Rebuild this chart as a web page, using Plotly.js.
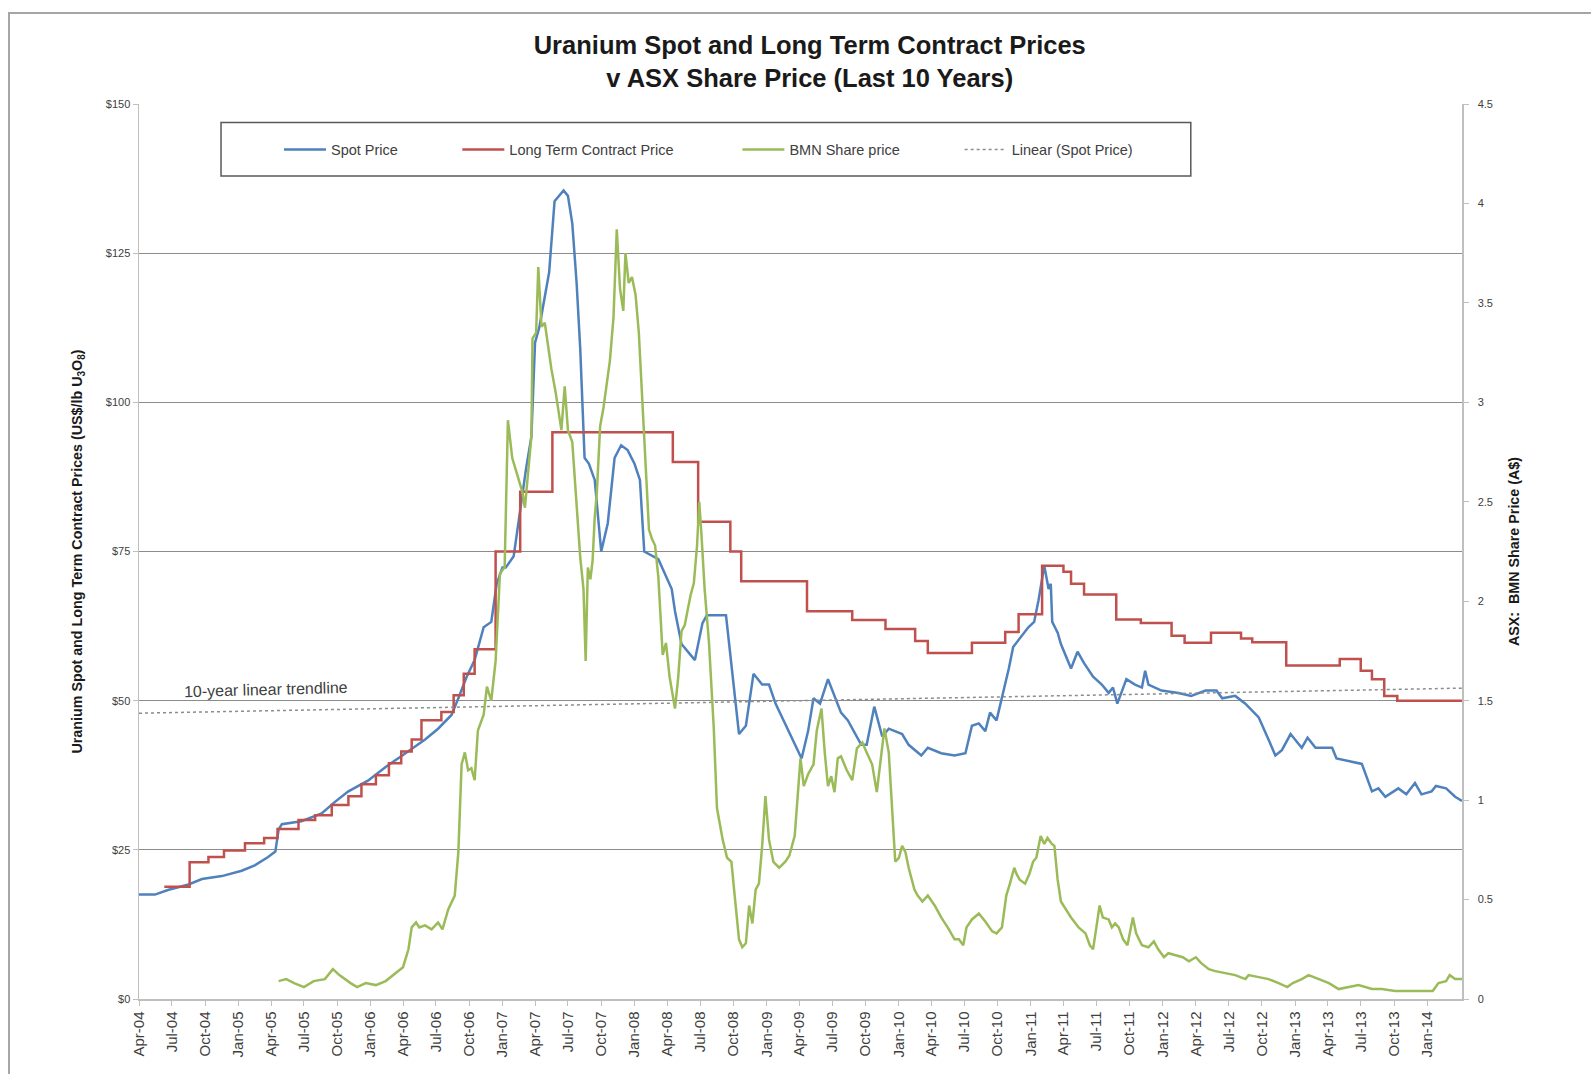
<!DOCTYPE html>
<html>
<head>
<meta charset="utf-8">
<script src="https://cdn.plot.ly/plotly-3.0.1.min.js"></script>
<style>
  html, body { margin: 0; padding: 0; background: #ffffff; }
  #frame { position: absolute; left: 8px; top: 12px; width: 1600px; height: 1100px;
           border-top: 2px solid #a6a6a6; border-left: 2px solid #a6a6a6; }
  #chart { position: absolute; left: 0; top: 0; width: 1591px; height: 1074px; }
</style>
</head>
<body>
<div id="frame"></div>
<div id="chart"></div>
<script>
// Uranium spot price (US$/lb U3O8)
const spotDates = [
  '2004-04-01','2004-05-15','2004-06-22','2004-08-16','2004-09-22','2004-11-16','2005-01-10','2005-02-15',
  '2005-03-24','2005-04-13','2005-04-22','2005-05-01','2005-06-24','2005-08-19','2005-09-24','2005-11-01',
  '2005-12-25','2006-02-12','2006-03-27','2006-05-04','2006-06-01','2006-07-07','2006-08-13','2006-09-01',
  '2006-09-24','2006-10-16','2006-11-10','2006-12-01','2006-12-16','2007-01-01','2007-01-10','2007-02-01',
  '2007-02-18','2007-03-07','2007-03-22','2007-04-01','2007-04-13','2007-04-28','2007-05-10','2007-05-25',
  '2007-06-19','2007-07-01','2007-07-13','2007-07-25','2007-08-04','2007-08-16','2007-08-28','2007-09-13',
  '2007-10-01','2007-10-19','2007-11-07','2007-11-25','2007-12-13','2008-01-01','2008-01-16','2008-01-28',
  '2008-03-07','2008-04-13','2008-04-22','2008-05-10','2008-06-16','2008-07-07','2008-07-19','2008-09-10',
  '2008-10-16','2008-11-04','2008-11-25','2008-12-19','2009-01-07','2009-01-25','2009-03-01','2009-04-07',
  '2009-04-25','2009-05-10','2009-05-28','2009-06-19','2009-07-25','2009-08-13','2009-09-19','2009-10-04',
  '2009-10-25','2009-11-16','2009-12-04','2010-01-10','2010-01-28','2010-03-04','2010-03-22','2010-04-28',
  '2010-06-04','2010-07-04','2010-07-22','2010-08-10','2010-08-28','2010-09-10','2010-09-28','2010-10-16',
  '2010-11-01','2010-11-13','2010-12-01','2010-12-25','2011-01-10','2011-01-22','2011-02-07','2011-02-19',
  '2011-02-25','2011-03-01','2011-03-16','2011-03-25','2011-04-22','2011-05-10','2011-05-28','2011-06-22',
  '2011-07-16','2011-08-04','2011-08-16','2011-08-28','2011-09-22','2011-10-16','2011-11-04','2011-11-13',
  '2011-11-22','2011-12-28','2012-02-13','2012-03-19','2012-04-28','2012-05-28','2012-06-13','2012-07-19',
  '2012-08-16','2012-09-22','2012-10-19','2012-11-07','2012-11-25','2012-12-19','2013-01-07','2013-01-19',
  '2013-02-04','2013-02-26','2013-04-13','2013-04-25','2013-07-04','2013-07-22','2013-08-01','2013-08-19',
  '2013-09-07','2013-10-13','2013-11-04','2013-11-28','2013-12-16','2014-01-13','2014-01-25','2014-02-22',
  '2014-03-19','2014-04-07'
];
const spotPrice = [
  17.5, 17.5, 18.3, 19.2, 20.1, 20.6, 21.5, 22.4,
  23.8, 24.7, 28.4, 29.3, 29.8, 31.1, 33.0, 34.8,
  36.6, 38.9, 40.7, 42.3, 43.5, 45.3, 47.6, 50.4,
  54.0, 56.8, 62.3, 63.2, 69.6, 72.3, 72.3, 74.2,
  81.5, 88.8, 94.3, 110.0, 112.6, 118.0, 121.8, 133.7,
  135.5, 134.6, 130.0, 120.0, 109.0, 90.7, 89.7, 87.0,
  75.0, 79.7, 90.7, 92.8, 92.0, 89.7, 87.0, 75.0,
  73.7, 68.7, 65.0, 59.5, 56.8, 63.0, 64.3, 64.3,
  44.4, 45.8, 54.5, 52.7, 52.7, 49.5, 44.9, 40.3,
  44.9, 50.4, 49.5, 53.6, 48.0, 46.7, 42.6, 42.6,
  49.0, 44.0, 45.3, 44.4, 42.6, 40.8, 42.1, 41.2,
  40.8, 41.2, 45.8, 46.2, 44.9, 48.0, 46.7, 51.3,
  55.4, 59.0, 60.4, 62.3, 63.2, 66.8, 72.6, 68.7,
  69.6, 63.2, 61.4, 59.5, 55.4, 58.2, 56.3, 54.0,
  52.7, 51.3, 52.2, 49.5, 53.6, 52.7, 52.2, 55.0,
  52.7, 51.7, 51.3, 50.8, 51.7, 51.7, 50.4, 50.8,
  49.5, 47.2, 43.5, 40.8, 41.7, 44.4, 43.0, 42.1,
  43.8, 42.1, 42.1, 40.3, 39.4, 36.6, 34.8, 35.3,
  33.9, 35.3, 34.3, 36.2, 34.3, 34.8, 35.7, 35.3,
  33.9, 33.2
];

// Long term contract price (US$/lb U3O8), each value holds until the next date
const ltDates = [
  '2004-06-10','2004-08-19','2004-10-10','2004-11-22','2005-01-19','2005-03-13','2005-04-19','2005-06-16',
  '2005-08-01','2005-09-16','2005-11-01','2005-12-07','2006-01-16','2006-02-21','2006-03-27','2006-04-25',
  '2006-05-22','2006-07-16','2006-08-19','2006-09-16','2006-10-16','2006-12-13','2007-02-19','2007-05-19',
  '2008-04-16','2008-06-25','2008-09-22','2008-10-22','2009-04-22','2009-08-25','2009-11-25','2010-02-15',
  '2010-03-22','2010-07-22','2010-10-22','2010-11-28','2011-02-01','2011-04-01','2011-04-22','2011-05-28',
  '2011-08-25','2011-11-01','2012-01-25','2012-03-01','2012-05-13','2012-08-04','2012-09-04','2012-12-07',
  '2013-05-04','2013-07-01','2013-08-01','2013-09-04','2013-10-10','2014-04-07'
];
const ltPrice = [
  18.8, 22.9, 23.8, 24.9, 26.1, 27.0, 28.5, 30.0,
  30.8, 32.5, 34.0, 36.0, 37.5, 39.5, 41.5, 43.5,
  46.7, 48.1, 50.9, 54.5, 58.6, 75.0, 85.0, 95.0,
  90.0, 80.0, 75.0, 70.0, 65.0, 63.5, 62.0, 60.0,
  58.0, 59.7, 61.5, 64.5, 72.6, 71.6, 69.6, 67.8,
  63.6, 63.0, 60.9, 59.7, 61.4, 60.4, 59.8, 55.9,
  57.0, 55.0, 53.6, 50.8, 50.0, 50.0
];

// BMN share price on the ASX (A$)
const bmnDates = [
  '2005-04-22','2005-05-13','2005-06-04','2005-07-01','2005-07-28','2005-08-28','2005-09-19','2005-10-07',
  '2005-11-07','2005-11-25','2005-12-19','2006-01-16','2006-02-12','2006-03-10','2006-04-01','2006-04-16',
  '2006-04-25','2006-05-07','2006-05-16','2006-06-01','2006-06-19','2006-07-07','2006-07-19','2006-08-04',
  '2006-08-22','2006-09-01','2006-09-10','2006-09-19','2006-09-28','2006-10-07','2006-10-16','2006-10-25',
  '2006-11-10','2006-11-19','2006-12-01','2006-12-13','2006-12-25','2007-01-07','2007-01-16','2007-01-28',
  '2007-02-10','2007-02-25','2007-03-04','2007-03-13','2007-03-22','2007-03-25','2007-04-04','2007-04-10',
  '2007-04-19','2007-04-28','2007-05-16','2007-05-28','2007-06-13','2007-06-22','2007-07-01','2007-07-13',
  '2007-07-25','2007-08-04','2007-08-13','2007-08-19','2007-08-25','2007-09-01','2007-09-07','2007-09-13',
  '2007-09-19','2007-09-28','2007-10-07','2007-10-16','2007-10-25','2007-11-04','2007-11-13','2007-11-22',
  '2007-12-01','2007-12-07','2007-12-16','2007-12-25','2008-01-04','2008-01-13','2008-01-22','2008-02-01',
  '2008-02-10','2008-02-19','2008-02-27','2008-03-07','2008-03-19','2008-03-28','2008-04-07','2008-04-22',
  '2008-05-01','2008-05-10','2008-05-19','2008-06-04','2008-06-13','2008-06-22','2008-06-28','2008-07-04',
  '2008-07-13','2008-07-25','2008-08-07','2008-08-16','2008-09-01','2008-09-13','2008-09-25','2008-10-04',
  '2008-10-16','2008-10-25','2008-11-04','2008-11-13','2008-11-22','2008-12-01','2008-12-10','2008-12-19',
  '2008-12-28','2009-01-07','2009-01-19','2009-02-04','2009-02-21','2009-03-04','2009-03-19','2009-04-04',
  '2009-04-13','2009-04-25','2009-05-10','2009-05-19','2009-06-01','2009-06-10','2009-06-19','2009-06-28',
  '2009-07-07','2009-07-16','2009-07-25','2009-08-10','2009-08-25','2009-09-07','2009-09-22','2009-10-04',
  '2009-10-19','2009-11-01','2009-11-10','2009-11-22','2009-12-04','2009-12-13','2009-12-22','2010-01-01',
  '2010-01-10','2010-01-19','2010-01-28','2010-02-13','2010-02-22','2010-03-07','2010-03-22','2010-04-10',
  '2010-04-28','2010-05-16','2010-06-04','2010-06-16','2010-06-28','2010-07-07','2010-07-22','2010-08-10',
  '2010-08-28','2010-09-16','2010-09-28','2010-10-13','2010-10-25','2010-11-04','2010-11-16','2010-11-22',
  '2010-12-01','2010-12-16','2010-12-28','2011-01-07','2011-01-16','2011-01-28','2011-02-07','2011-02-16',
  '2011-02-28','2011-03-07','2011-03-16','2011-03-25','2011-04-07','2011-04-22','2011-05-13','2011-06-01',
  '2011-06-13','2011-06-22','2011-07-01','2011-07-10','2011-07-19','2011-08-04','2011-08-13','2011-08-22',
  '2011-09-01','2011-09-13','2011-09-25','2011-10-10','2011-10-19','2011-11-04','2011-11-22','2011-12-07',
  '2011-12-19','2012-01-04','2012-01-16','2012-02-04','2012-02-25','2012-03-13','2012-04-01','2012-04-16',
  '2012-05-07','2012-05-25','2012-06-22','2012-07-19','2012-08-16','2012-08-25','2012-09-22','2012-10-19',
  '2012-11-16','2012-12-10','2012-12-25','2013-01-19','2013-02-07','2013-03-07','2013-04-04','2013-05-01',
  '2013-06-01','2013-06-25','2013-08-01','2013-08-28','2013-10-04','2013-11-10','2013-12-13','2014-01-16',
  '2014-02-01','2014-02-22','2014-03-04','2014-03-19','2014-04-07'
];
const bmnPrice = [
  0.09, 0.10, 0.08, 0.06, 0.09, 0.10, 0.15, 0.12,
  0.08, 0.06, 0.08, 0.07, 0.09, 0.13, 0.16, 0.25,
  0.36, 0.385, 0.36, 0.37, 0.35, 0.385, 0.35, 0.45,
  0.52, 0.74, 1.18, 1.24, 1.15, 1.16, 1.10, 1.35,
  1.43, 1.57, 1.50, 1.70, 2.14, 2.17, 2.91, 2.72,
  2.64, 2.55, 2.47, 2.64, 2.83, 3.32, 3.35, 3.68,
  3.38, 3.40, 3.17, 3.05, 2.86, 3.08, 2.86, 2.80,
  2.50, 2.22, 2.06, 1.70, 2.17, 2.11, 2.20, 2.42,
  2.55, 2.88, 2.97, 3.10, 3.21, 3.43, 3.87, 3.57,
  3.46, 3.75, 3.60, 3.63, 3.54, 3.35, 3.05, 2.66,
  2.36, 2.31, 2.28, 2.12, 1.73, 1.79, 1.62, 1.46,
  1.62, 1.85, 1.88, 2.03, 2.09, 2.28, 2.50, 2.34,
  2.06, 1.79, 1.37, 0.96, 0.80, 0.71, 0.69, 0.52,
  0.30, 0.26, 0.28, 0.47, 0.38, 0.55, 0.58, 0.77,
  1.02, 0.80, 0.69, 0.66, 0.69, 0.72, 0.82, 1.21,
  1.07, 1.13, 1.18, 1.35, 1.46, 1.24, 1.07, 1.12,
  1.04, 1.21, 1.22, 1.15, 1.10, 1.26, 1.29, 1.24,
  1.18, 1.04, 1.18, 1.36, 1.24, 0.96, 0.69, 0.71,
  0.77, 0.74, 0.66, 0.55, 0.52, 0.49, 0.52, 0.47,
  0.41, 0.36, 0.30, 0.30, 0.27, 0.36, 0.40, 0.43,
  0.39, 0.34, 0.33, 0.36, 0.52, 0.58, 0.66, 0.63,
  0.60, 0.58, 0.63, 0.69, 0.71, 0.82, 0.78, 0.81,
  0.78, 0.77, 0.60, 0.49, 0.45, 0.41, 0.36, 0.33,
  0.27, 0.25, 0.36, 0.47, 0.41, 0.40, 0.36, 0.38,
  0.36, 0.30, 0.27, 0.41, 0.33, 0.27, 0.26, 0.29,
  0.25, 0.21, 0.23, 0.22, 0.21, 0.19, 0.21, 0.18,
  0.15, 0.14, 0.13, 0.12, 0.10, 0.12, 0.11, 0.10,
  0.08, 0.06, 0.08, 0.10, 0.12, 0.10, 0.08, 0.05,
  0.06, 0.07, 0.05, 0.05, 0.04, 0.04, 0.04, 0.04,
  0.08, 0.09, 0.12, 0.10, 0.10
];

// Linear trendline through the spot price, start and end of the 10-year span
const trendDates = ['2004-04-01', '2014-04-07'];
const trendPrice = [47.9, 52.1];

// Quarterly date ticks on the time axis
const quarterTicks = [
  '2004-04-01','2004-07-01','2004-10-01','2005-01-01','2005-04-01','2005-07-01','2005-10-01','2006-01-01',
  '2006-04-01','2006-07-01','2006-10-01','2007-01-01','2007-04-01','2007-07-01','2007-10-01','2008-01-01',
  '2008-04-01','2008-07-01','2008-10-01','2009-01-01','2009-04-01','2009-07-01','2009-10-01','2010-01-01',
  '2010-04-01','2010-07-01','2010-10-01','2011-01-01','2011-04-01','2011-07-01','2011-10-01','2012-01-01',
  '2012-04-01','2012-07-01','2012-10-01','2013-01-01','2013-04-01','2013-07-01','2013-10-01','2014-01-01'
];

// Axis ranges
const xRange = ['2004-04-01', '2014-04-07'];
const leftRange = [0, 150];
const rightRange = [0, 4.5];

const narrow = "'Liberation Sans Narrow', 'Liberation Sans', Arial, sans-serif";
const plain = "'Liberation Sans', Arial, sans-serif";

const traces = [
  { name: 'Spot Price', x: spotDates, y: spotPrice, type: 'scatter', mode: 'lines',
    line: { color: '#4F81BD', width: 2.5 }, legend: 'legend' },
  { name: 'Long Term Contract Price', x: ltDates, y: ltPrice, type: 'scatter', mode: 'lines',
    line: { color: '#C0504D', width: 2.5, shape: 'hv' }, legend: 'legend2' },
  { name: 'BMN Share price', x: bmnDates, y: bmnPrice, type: 'scatter', mode: 'lines', yaxis: 'y2',
    line: { color: '#9BBB59', width: 2.5 }, legend: 'legend3' },
  { name: 'Linear (Spot Price)', x: trendDates, y: trendPrice, type: 'scatter', mode: 'lines',
    line: { color: '#8C8C8C', width: 1.5, dash: 'dot' }, legend: 'legend4' }
];

function legendAt(x) {
  return { x: x, y: 0.9492, xanchor: 'left', yanchor: 'middle', orientation: 'h',
           bgcolor: 'rgba(0,0,0,0)', borderwidth: 0, itemwidth: 42,
           font: { family: narrow, size: 14.5, color: '#404040' } };
}

const layout = {
  width: 1591, height: 1074,
  margin: { l: 139, r: 129, t: 103.5, b: 74.5 },
  paper_bgcolor: 'rgba(0,0,0,0)', plot_bgcolor: 'rgba(0,0,0,0)',
  title: {
    text: 'Uranium Spot and Long Term Contract Prices<br>v ASX Share Price (Last 10 Years)',
    font: { family: narrow, size: 25.5, color: '#1a1a1a', weight: 'bold' },
    x: 0.507, xref: 'paper', xanchor: 'center',
    y: 0.9495, yref: 'container', yanchor: 'middle'
  },
  xaxis: {
    type: 'date', range: xRange, tickmode: 'array', tickvals: quarterTicks, tickformat: '%b-%y',
    tickangle: -90, ticks: 'outside', ticklen: 5, tickcolor: '#BFBFBF',
    showline: true, linecolor: '#BFBFBF', linewidth: 1.5, showgrid: false, zeroline: false,
    tickfont: { family: plain, size: 15, color: '#404040' }
  },
  yaxis: {
    range: leftRange, dtick: 25, tickprefix: '$', ticks: 'outside', ticklen: 5, tickcolor: '#BFBFBF',
    showline: true, linecolor: '#BFBFBF', linewidth: 1.5,
    showgrid: true, gridcolor: '#8C8C8C', gridwidth: 1,
    zeroline: true, zerolinecolor: '#BFBFBF', zerolinewidth: 1.5,
    tickfont: { family: plain, size: 11, color: '#404040' },
    title: { text: 'Uranium Spot and Long Term Contract Prices (US$/lb U<sub>3</sub>O<sub>8</sub>)',
             font: { family: narrow, size: 14.3, color: '#1a1a1a', weight: 'bold' }, standoff: 20 }
  },
  yaxis2: {
    overlaying: 'y', side: 'right', range: rightRange, dtick: 0.5,
    ticks: 'outside', ticklen: 5, tickcolor: '#BFBFBF', ticklabelstandoff: 7,
    showline: true, linecolor: '#BFBFBF', linewidth: 1.5, showgrid: false, zeroline: false,
    tickfont: { family: plain, size: 11, color: '#404040' },
    title: { text: 'ASX:  BMN Share Price (A$)',
             font: { family: narrow, size: 14.3, color: '#1a1a1a', weight: 'bold' }, standoff: 17 }
  },
  showlegend: true,
  legend: legendAt(0.1058),
  legend2: legendAt(0.2406),
  legend3: legendAt(0.4523),
  legend4: legendAt(0.6203),
  shapes: [
    { type: 'rect', xref: 'paper', yref: 'paper', x0: 0.062, x1: 0.795, y0: 0.9196, y1: 0.9794,
      line: { color: '#595959', width: 1.5 }, fillcolor: '#ffffff', layer: 'below' }
  ],
  annotations: [
    { text: '10-year linear trendline', xref: 'paper', yref: 'paper', x: 0.096, y: 0.3454,
      xanchor: 'center', yanchor: 'middle', showarrow: false, textangle: -1.5,
      font: { family: narrow, size: 16, color: '#404040' } }
  ]
};

Plotly.newPlot('chart', traces, layout, { displayModeBar: false, staticPlot: true });
</script>
</body>
</html>
